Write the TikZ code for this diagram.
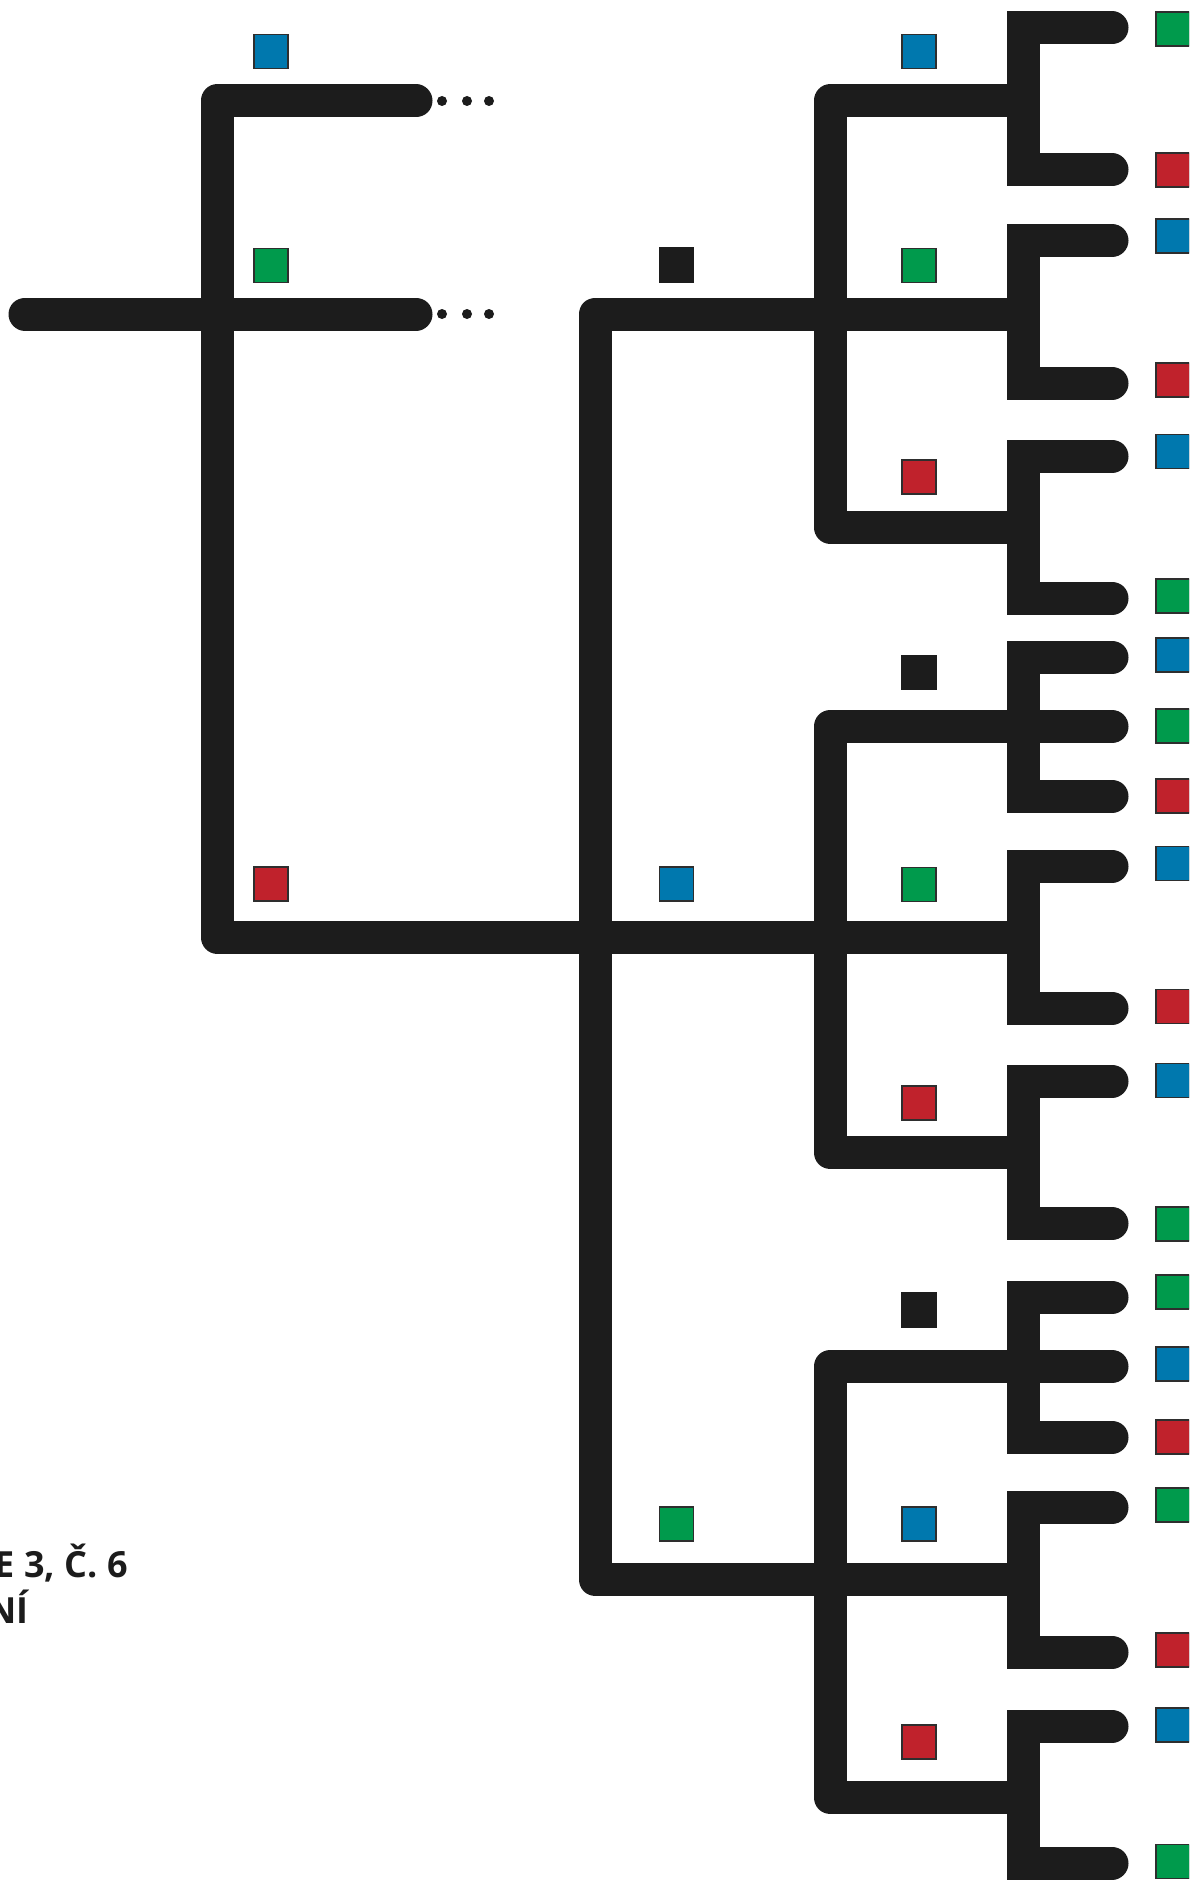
\documentclass[tikz,border=0pt]{standalone}
\usepackage{fontspec}
\setmainfont{Open Sans}
\definecolor{ink}{HTML}{1C1C1C}
\definecolor{cblue}{HTML}{0078AE}
\definecolor{cgreen}{HTML}{009A4C}
\definecolor{cred}{HTML}{C0222C}
\definecolor{cedge}{HTML}{2E2E2E}
\tikzset{
  branch/.style={draw=ink, line width=33pt, line join=round, line cap=round},
  fork/.style={draw=ink, line width=33pt, line join=miter, line cap=round},
  sq/.style={rectangle, minimum size=34pt, inner sep=0pt, draw=cedge, line width=1.2pt},
  bsq/.style={sq, fill=cblue},
  gsq/.style={sq, fill=cgreen},
  rsq/.style={sq, fill=cred},
  ksq/.style={sq, fill=ink, draw=ink},
  dotn/.style={circle, fill=ink, inner sep=0pt, minimum size=10pt},
  lbl/.style={font=\bfseries\fontsize{36}{46}\selectfont, text=ink, inner sep=0pt, anchor=base east}
}
\newcommand\drawfork[3]{%
  \coordinate (#1T) at (1023,#2); \coordinate (#1Te) at (1112,#2);
  \coordinate (#1B) at (1023,#3); \coordinate (#1Be) at (1112,#3);
  \draw[fork] (#1Te) -- (#1T) -- (#1B) -- (#1Be);}
\begin{document}
\begin{tikzpicture}[x=1pt,y=-1pt]
\useasboundingbox (0,0) rectangle (1189,1881);
\fill[white] (0,0) rectangle (1189,1881);
\clip (0,0) rectangle (1189,1881);

% junction coordinates
\coordinate (a0) at (25,314);
\coordinate (a1) at (416,314);
\coordinate (t1) at (416,101);
\coordinate (c1) at (217,101);
\coordinate (c2) at (217,937);
\coordinate (m1) at (595,314);
\coordinate (m2) at (595,1579.5);
\coordinate (g1t) at (830,101);
\coordinate (g1b) at (830,527);
\coordinate (g2t) at (830,726.5);
\coordinate (g2b) at (830,1152.5);
\coordinate (g3t) at (830,1366.5);
\coordinate (g3b) at (830,1797.5);
\coordinate (j1) at (1023,101);
\coordinate (j2) at (1023,314);
\coordinate (j3) at (1023,527);
\coordinate (j4) at (1023,726.5);
\coordinate (j5) at (1023,937);
\coordinate (j6) at (1023,1152.5);
\coordinate (j7) at (1023,1366.5);
\coordinate (j8) at (1023,1579.5);
\coordinate (j9) at (1023,1797.5);
\coordinate (j4e) at (1112,726.5);
\coordinate (j7e) at (1112,1366.5);

% branches
\draw[branch] (a0) -- (a1);
\draw[branch] (t1) -- (c1) -- (c2) -- (j5);
\draw[branch] (j2) -- (m1) -- (m2) -- (j8);
\draw[branch] (j1) -- (g1t) -- (g1b) -- (j3);
\draw[branch] (j4) -- (g2t) -- (g2b) -- (j6);
\draw[branch] (j7) -- (g3t) -- (g3b) -- (j9);

% forks
\drawfork{f1}{28}{170}
\drawfork{f2}{240.5}{383}
\drawfork{f3}{456}{598}
\drawfork{f4}{657}{796}
\draw[fork] (j4) -- (j4e);
\drawfork{f5}{866}{1008}
\drawfork{f6}{1081}{1223.5}
\drawfork{f7}{1297}{1437}
\draw[fork] (j7) -- (j7e);
\drawfork{f8}{1507.5}{1652}
\drawfork{f9}{1726}{1863}

% dots
\node[dotn] (d1) at (442,101) {};
\node[dotn] (d2) at (467,101) {};
\node[dotn] (d3) at (489,101) {};
\node[dotn] (d4) at (442,314) {};
\node[dotn] (d5) at (467,314) {};
\node[dotn] (d6) at (489,314) {};

% squares, column A
\node[bsq] (sa1) at (271,51.5) {};
\node[gsq] (sa2) at (271,265.5) {};
\node[rsq] (sa3) at (271,884) {};
% column B
\node[ksq] (sb1) at (676.5,265) {};
\node[bsq] (sb2) at (676.5,884) {};
\node[gsq] (sb3) at (676.5,1524) {};
% column C
\node[bsq] (sc1) at (919,51.5) {};
\node[gsq] (sc2) at (919,265.5) {};
\node[rsq] (sc3) at (919,477) {};
\node[ksq] (sc4) at (919,672.5) {};
\node[gsq] (sc5) at (919,884.5) {};
\node[rsq] (sc6) at (919,1103) {};
\node[ksq] (sc7) at (919,1310) {};
\node[bsq] (sc8) at (919,1524) {};
\node[rsq] (sc9) at (919,1742) {};
% right column
\node[gsq] (r1) at (1173,29) {};
\node[rsq] (r2) at (1173,170) {};
\node[bsq] (r3) at (1173,236) {};
\node[rsq] (r4) at (1173,380) {};
\node[bsq] (r5) at (1173,451.5) {};
\node[gsq] (r6) at (1173,596) {};
\node[bsq] (r7) at (1173,655) {};
\node[gsq] (r8) at (1173,726) {};
\node[rsq] (r9) at (1173,796) {};
\node[bsq] (r10) at (1173,863.5) {};
\node[rsq] (r11) at (1173,1006.5) {};
\node[bsq] (r12) at (1173,1080.5) {};
\node[gsq] (r13) at (1173,1224) {};
\node[gsq] (r14) at (1173,1292) {};
\node[bsq] (r15) at (1173,1364) {};
\node[rsq] (r16) at (1173,1437) {};
\node[gsq] (r17) at (1173,1505) {};
\node[rsq] (r18) at (1173,1650) {};
\node[bsq] (r19) at (1173,1725) {};
\node[gsq] (r20) at (1173,1861.5) {};

% clipped caption
\node[lbl] (cap1) at (128,1577) {E 3, Č. 6};
\node[lbl] (cap2) at (29,1623) {NÍ};
\end{tikzpicture}
\end{document}
